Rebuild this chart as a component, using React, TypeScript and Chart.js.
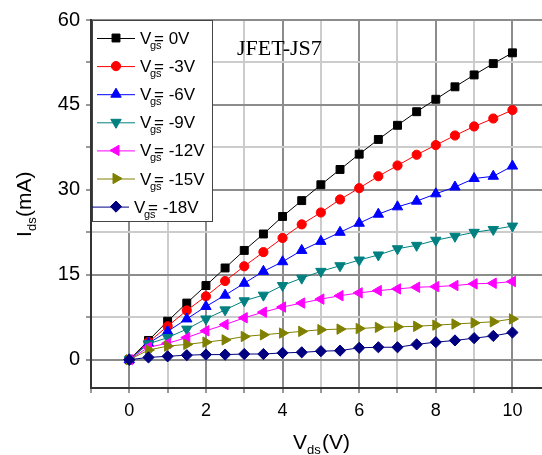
import React, { useEffect, useRef } from 'react';
import { Chart, registerables } from 'chart.js';

Chart.register(...registerables);

const vds = [0, 0.5, 1, 1.5, 2, 2.5, 3, 3.5, 4, 4.5, 5, 5.5, 6, 6.5, 7, 7.5, 8, 8.5, 9, 9.5, 10];
const ids0 = [0, 3.4, 6.8, 10.0, 13.1, 16.2, 19.3, 22.2, 25.3, 28.1, 30.9, 33.6, 36.3, 38.9, 41.4, 43.8, 46.0, 48.2, 50.3, 52.3, 54.2];
const ids3 = [0, 3.1, 5.9, 8.7, 11.2, 13.9, 16.5, 19.0, 21.5, 23.9, 26.0, 28.3, 30.3, 32.4, 34.3, 36.2, 37.9, 39.6, 41.2, 42.6, 44.1];
const ids6 = [0, 2.9, 5.0, 7.2, 9.4, 11.4, 13.5, 15.6, 17.3, 19.3, 20.9, 22.5, 24.1, 25.7, 27.0, 28.0, 29.3, 30.5, 32.0, 32.4, 34.2];
const ids9 = [0, 2.8, 3.9, 5.4, 7.2, 8.8, 10.4, 11.4, 13.1, 14.4, 15.6, 16.6, 17.6, 18.5, 19.6, 20.2, 21.1, 21.8, 22.5, 23.0, 23.6];
const ids12 = [0, 2.2, 2.9, 3.9, 5.1, 6.2, 7.4, 8.4, 9.3, 10.0, 10.7, 11.3, 11.8, 12.2, 12.5, 12.8, 12.9, 13.1, 13.4, 13.5, 13.8];
const ids15 = [0, 1.7, 2.4, 2.7, 3.1, 3.5, 4.1, 4.4, 4.7, 5.0, 5.3, 5.4, 5.5, 5.7, 5.8, 5.9, 6.1, 6.3, 6.5, 6.7, 7.2];
const ids18 = [0, 0.4, 0.6, 0.8, 0.9, 0.9, 1.0, 1.0, 1.2, 1.3, 1.5, 1.6, 2.1, 2.2, 2.2, 2.7, 3.1, 3.4, 3.8, 4.2, 4.8];

const seriesValues = [ids0, ids3, ids6, ids9, ids12, ids15, ids18];
const seriesLabels = ['= 0V', '= -3V', '= -6V', '= -9V', '= -12V', '= -15V', '= -18V'];
const seriesColors = ['#000000', '#ff0000', '#0000ff', '#008080', '#ff00ff', '#808000', '#000080'];
const seriesStyles = ['rect', 'circle', 'triangle', 'triangle', 'triangle', 'triangle', 'rectRot'];
const seriesRotations = [0, 0, 0, 180, 270, 90, 0];
const seriesRadius = [5.6, 4.6, 6, 6, 6, 6, 5.6];

const xTicks = [-1, 0, 1, 2, 3, 4, 5, 6, 7, 8, 9, 10];
const yTicks = [0, 7.5, 15, 22.5, 30, 37.5, 45, 52.5, 60];
const yLabels = [0, 15, 30, 45, 60];
const xLabels = [0, 2, 4, 6, 8, 10];

const SANS = '"Liberation Sans", Arial, sans-serif';

function drawMarker(ctx: CanvasRenderingContext2D, style: string, rotDeg: number, r: number, x: number, y: number, color: string) {
  ctx.save();
  ctx.fillStyle = color;
  ctx.strokeStyle = color;
  ctx.lineWidth = 1;
  ctx.beginPath();
  if (style === 'rect') {
    const s = r * Math.SQRT1_2;
    ctx.rect(x - s, y - s, 2 * s, 2 * s);
  } else if (style === 'circle') {
    ctx.arc(x, y, r, 0, Math.PI * 2);
  } else if (style === 'rectRot') {
    ctx.moveTo(x, y - r);
    ctx.lineTo(x + r, y);
    ctx.lineTo(x, y + r);
    ctx.lineTo(x - r, y);
    ctx.closePath();
  } else {
    let rad = (rotDeg * Math.PI) / 180;
    for (let k = 0; k < 3; k++) {
      const px = x + Math.sin(rad) * r;
      const py = y - Math.cos(rad) * r;
      if (k === 0) ctx.moveTo(px, py);
      else ctx.lineTo(px, py);
      rad += (2 * Math.PI) / 3;
    }
    ctx.closePath();
  }
  ctx.fill();
  ctx.stroke();
  ctx.restore();
}

const overlayPlugin = {
  id: 'overlay',
  afterDraw(chart: any) {
    const ctx: CanvasRenderingContext2D = chart.ctx;
    const area = chart.chartArea;
    ctx.save();

    // Legend box
    const bx = area.left + 1;
    const by = area.top;
    ctx.fillStyle = '#ffffff';
    ctx.fillRect(bx, by, 120, 201);
    ctx.strokeStyle = '#444444';
    ctx.lineWidth = 1;
    ctx.strokeRect(bx + 0.5, by + 0.5, 120, 201);

    for (let i = 0; i < seriesLabels.length; i++) {
      const cy = by + 18 + i * 28.1;
      const shift = i === seriesLabels.length - 1 ? -6 : 0;
      const color = seriesColors[i];
      ctx.strokeStyle = color;
      ctx.lineWidth = 1;
      ctx.beginPath();
      ctx.moveTo(bx + 5 + (shift ? -5 : 0), cy + 0.5);
      ctx.lineTo(bx + 43 + shift, cy + 0.5);
      ctx.stroke();
      drawMarker(ctx, seriesStyles[i], seriesRotations[i], seriesRadius[i], bx + 24, cy, color);

      const tx = bx + 48 + shift;
      ctx.fillStyle = '#000000';
      ctx.textBaseline = 'alphabetic';
      ctx.textAlign = 'left';
      ctx.font = '17px ' + SANS;
      ctx.fillText('V', tx, cy + 6);
      ctx.font = '11px ' + SANS;
      ctx.fillText('gs', tx + 10, cy + 11);
      ctx.font = '17px ' + SANS;
      ctx.fillText(seriesLabels[i], tx + 14, cy + 6);
    }

    // Annotation
    ctx.fillStyle = '#000000';
    ctx.font = '22px "Liberation Serif", "Times New Roman", serif';
    ctx.fillText('JFET-JS7', 237, 55);

    // X axis title
    ctx.font = '21px ' + SANS;
    ctx.fillText('V', 293, 449);
    ctx.font = '13px ' + SANS;
    ctx.fillText('ds', 307, 454);
    ctx.font = '21px ' + SANS;
    ctx.fillText('(V)', 322, 449);

    // Y axis title
    ctx.save();
    ctx.translate(31, 237);
    ctx.rotate(-Math.PI / 2);
    ctx.font = '21px ' + SANS;
    ctx.fillText('I', 0, 0);
    ctx.font = '13px ' + SANS;
    ctx.fillText('ds', 6, 5);
    ctx.font = '21px ' + SANS;
    ctx.fillText('(mA)', 20, 0);
    ctx.restore();

    ctx.restore();
  },
};

export default function App() {
  const canvasRef = useRef<HTMLCanvasElement | null>(null);

  useEffect(() => {
    const canvas = canvasRef.current;
    if (!canvas) return;
    const datasets = seriesValues.map((vals, i) => ({
      label: seriesLabels[i],
      data: vds.map((x, j) => ({ x, y: vals[j] })),
      showLine: true,
      borderColor: seriesColors[i],
      backgroundColor: seriesColors[i],
      borderWidth: 1,
      pointStyle: seriesStyles[i],
      pointRotation: seriesRotations[i],
      pointRadius: seriesRadius[i],
      pointBorderWidth: 1,
      pointBorderColor: seriesColors[i],
      pointBackgroundColor: seriesColors[i],
      order: seriesValues.length - 1 - i,
    }));

    const chart = new Chart(canvas, {
      type: 'scatter',
      data: { datasets },
      options: {
        animation: false,
        responsive: false,
        devicePixelRatio: 1,
        layout: { padding: { top: 20, left: 0, right: 0, bottom: 0 } },
        plugins: { legend: { display: false }, tooltip: { enabled: false }, title: { display: false } },
        scales: {
          x: {
            type: 'linear',
            min: -1,
            max: 10.85,
            afterBuildTicks: (scale: any) => {
              scale.ticks = xTicks.map((v) => ({ value: v }));
            },
            afterFit: (scale: any) => {
              scale.height = 67;
            },
            ticks: {
              autoSkip: false,
              maxRotation: 0,
              padding: 7,
              color: '#000000',
              font: { family: SANS, size: 18 },
              callback: (v: any) => (xLabels.includes(Number(v)) ? String(v) : ''),
            },
            grid: {
              drawTicks: true,
              tickLength: 5,
              tickColor: '#333333',
              tickWidth: 1,
              lineWidth: 2,
              color: (c: any) => {
                const v = c.tick ? c.tick.value : 0;
                if (v === -1) return 'rgba(0,0,0,0)';
                return v % 2 === 0 ? '#8c8c8c' : '#cccccc';
              },
            },
            border: { display: true, color: '#333333', width: 2 },
          },
          y: {
            type: 'linear',
            min: -5,
            max: 60,
            afterBuildTicks: (scale: any) => {
              scale.ticks = yTicks.map((v) => ({ value: v }));
            },
            afterFit: (scale: any) => {
              scale.width = 91;
            },
            ticks: {
              autoSkip: false,
              padding: 6,
              color: '#000000',
              font: { family: SANS, size: 20 },
              callback: (v: any) => (yLabels.includes(Number(v)) ? String(v) : ''),
            },
            grid: {
              drawTicks: true,
              tickLength: 5,
              tickColor: '#333333',
              tickWidth: 1,
              lineWidth: 2,
              color: (c: any) => {
                const v = c.tick ? c.tick.value : 0;
                return v % 15 === 0 ? '#8c8c8c' : '#cccccc';
              },
            },
            border: { display: true, color: '#333333', width: 2 },
          },
        },
      },
      plugins: [overlayPlugin],
    } as any);

    return () => {
      chart.destroy();
    };
  }, []);

  return (
    <div style={{ position: 'fixed', left: 0, top: 0, width: 542, height: 455, overflow: 'hidden', background: '#fff' }}>
      <canvas ref={canvasRef} width={552} height={455} style={{ display: 'block', width: 552, height: 455 }} />
    </div>
  );
}
